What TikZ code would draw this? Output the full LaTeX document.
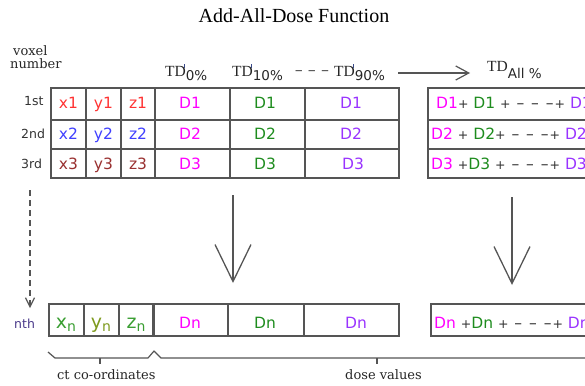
\documentclass[tikz,border=0pt]{standalone}
\usepackage{fontspec}
\setmainfont{Liberation Serif}
\newfontfamily\cellfont{DejaVu Sans}
\newfontfamily\labelfont{DejaVu Serif}
\usetikzlibrary{arrows.meta}
\definecolor{gridgray}{HTML}{555555}
\definecolor{ptred}{HTML}{FF3333}
\definecolor{ptblue}{HTML}{4040FF}
\definecolor{ptbrown}{HTML}{993030}
\definecolor{ptgreen}{HTML}{3A9E32}
\definecolor{ptolive}{HTML}{7E9A1E}
\definecolor{dmag}{HTML}{FF00FF}
\definecolor{dgreen}{HTML}{1E8C1E}
\definecolor{dpurple}{HTML}{9933FF}
\definecolor{plusgray}{HTML}{333333}
\definecolor{primeblue}{HTML}{3A4A8A}
\definecolor{nthcol}{HTML}{4A3A8A}

% TD with a prime and a percentage subscript
\newcommand{\tdprime}[1]{{\fontsize{15.5}{15.5}\selectfont TD}\makebox[0pt][l]{\hspace{-1.5pt}\raisebox{9pt}{\color{primeblue}\rule{1pt}{3.5pt}}}\raisebox{-4pt}{\cellfont\fontsize{13.5}{13.5}\selectfont #1\%}}
% coordinate letter with subscript n
\newcommand{\subn}[1]{{\fontsize{19}{19}\selectfont #1}\raisebox{-3pt}{\fontsize{14}{14}\selectfont n}}
% plus sign and dashes of the summed rows
\newcommand{\pl}{{\fontsize{12.5}{12.5}\selectfont +}}
\newcommand{\dsh}{\kern1pt–\kern1pt}

\begin{document}
\begin{tikzpicture}[x=1pt,y=-1pt,
  grid/.style={draw=gridgray,line width=1.3pt},
  cell/.style={font=\cellfont\fontsize{15.5}{15.5}\selectfont,inner sep=0pt,anchor=base},
  sumrow/.style={font=\cellfont\fontsize{15.5}{15.5}\selectfont,inner sep=0pt,anchor=base west,text=plusgray},
  rowlabel/.style={font=\cellfont\fontsize{12.5}{12.5}\selectfont,inner sep=0pt,anchor=base west,text=plusgray},
  head/.style={inner sep=0pt,anchor=base west,text=black!85},
  serifnote/.style={font=\labelfont\fontsize{13}{13}\selectfont,inner sep=0pt,anchor=base west,text=black!85},
  bigarrow/.style={draw=gridgray,line width=1.3pt,-{Straight Barb[length=37pt,width=36pt,line width=1.3pt]}},
]
\useasboundingbox (0,0) rectangle (585,385);
\clip (0,0) rectangle (585,385);

% title
\node[inner sep=0pt,anchor=base,font=\fontsize{20}{20}\selectfont] (title) at (294,23) {Add-All-Dose Function};

% voxel number caption and row labels
\node[serifnote] (voxel) at (13,56) {voxel};
\node[serifnote] (number) at (10,69) {number};
\node[rowlabel] (r1) at (24,106) {1st};
\node[rowlabel] (r2) at (21,138) {2nd};
\node[rowlabel] (r3) at (21,168) {3rd};
\node[rowlabel,text=nthcol] (rn) at (14,328) {nth};

% column headings
\node[head] (h0) at (165,77) {\tdprime{0}};
\node[head] (h10) at (232,77) {\tdprime{10}};
\node[head,font=\cellfont\fontsize{16}{16}\selectfont,anchor=center,text=gridgray] (hdots) at (312,73) {– – –};
\node[head] (h90) at (334,77) {\tdprime{90}};
\node[head] (hall) at (487,72) {{\fontsize{15.5}{15.5}\selectfont TD}\raisebox{-6pt}{\cellfont\fontsize{13.5}{13.5}\selectfont All \%}};
\coordinate (ha) at (398,73);
\coordinate (hb) at (470,73);
\draw[draw=gridgray,line width=1.2pt,-{Straight Barb[length=13pt,width=14pt,line width=1.2pt]}] (ha) -- (hb);

% main table: rows 1st to 3rd
\draw[grid] (51,88) rectangle (399,178);
\draw[grid] (51,120) -- (399,120) (51,149) -- (399,149);
\foreach \x in {86,121,155,230,305} \draw[grid] (\x,88) -- (\x,178);

\node[cell,text=ptred] (x1) at (68.5,108.5) {x1};
\node[cell,text=ptred] (y1) at (103.5,108.5) {y1};
\node[cell,text=ptred] (z1) at (138,108.5) {z1};
\node[cell,text=ptblue] (x2) at (68.5,139.5) {x2};
\node[cell,text=ptblue] (y2) at (103.5,139.5) {y2};
\node[cell,text=ptblue] (z2) at (138,139.5) {z2};
\node[cell,text=ptbrown] (x3) at (68.5,169) {x3};
\node[cell,text=ptbrown] (y3) at (103.5,169) {y3};
\node[cell,text=ptbrown] (z3) at (138,169) {z3};

\node[cell,text=dmag] (a1) at (190,108.5) {D1};
\node[cell,text=dmag] (a2) at (190,139.5) {D2};
\node[cell,text=dmag] (a3) at (190,169) {D3};
\node[cell,text=dgreen] (b1) at (265,108.5) {D1};
\node[cell,text=dgreen] (b2) at (265,139.5) {D2};
\node[cell,text=dgreen] (b3) at (265,169) {D3};
\node[cell,text=dpurple] (c1) at (351,108.5) {D1};
\node[cell,text=dpurple] (c2) at (351,139.5) {D2};
\node[cell,text=dpurple] (c3) at (353,169) {D3};

% summed table
\draw[grid] (428,88) rectangle (600,178);
\draw[grid] (428,120) -- (600,120) (428,149) -- (600,149);
\node[sumrow] (s1) at (436,108.5) {\textcolor{dmag}{D1}\pl\ \textcolor{dgreen}{D1} \pl\ \dsh\ \dsh\ \dsh\pl\ \textcolor{dpurple}{D1}};
\node[sumrow] (s2) at (431,139.5) {\textcolor{dmag}{D2} \pl\ \textcolor{dgreen}{D2}\pl\ \dsh\ \dsh\ \dsh\pl\ \textcolor{dpurple}{D2}};
\node[sumrow] (s3) at (431,169) {\textcolor{dmag}{D3} \pl\textcolor{dgreen}{D3} \pl\ \dsh\ \dsh\ \dsh\pl\ \textcolor{dpurple}{D3}};

% nth row
\draw[grid] (49,304) rectangle (153,336);
\draw[grid] (84,304) -- (84,336) (119,304) -- (119,336);
\draw[grid] (154.8,304) rectangle (399,336);
\draw[grid] (228,304) -- (228,336) (304,304) -- (304,336);
\node[cell,text=ptgreen] (xn) at (66,328) {\subn{x}};
\node[cell,text=ptolive] (yn) at (101,328) {\subn{y}};
\node[cell,text=ptgreen] (zn) at (136,328) {\subn{z}};
\node[cell,text=dmag] (an) at (190,328) {Dn};
\node[cell,text=dgreen] (bn) at (265,328) {Dn};
\node[cell,text=dpurple] (cn) at (356,328) {Dn};

\draw[grid] (431,304) rectangle (600,336);
\node[sumrow] (sn) at (434,328) {\textcolor{dmag}{Dn} \pl\textcolor{dgreen}{Dn} \pl\ \dsh\ \dsh\ \dsh\pl\ \textcolor{dpurple}{Dn}};

% arrows down to the nth row
\coordinate (d0) at (30,190);
\coordinate (d1) at (30,308);
\draw[draw=gridgray,line width=1.2pt,dash pattern=on 6pt off 4pt,-{Straight Barb[length=9pt,width=9pt,line width=1.2pt]}] (d0) -- (d1);
\coordinate (m0) at (233,195);
\coordinate (m1) at (233,283);
\draw[bigarrow] (m0) -- (m1);
\coordinate (t0) at (512,197);
\coordinate (t1) at (512,285);
\draw[bigarrow] (t0) -- (t1);

% braces under the rows
\draw[draw=gridgray,line width=1.2pt,line join=round] (48,352) -- (55,358) -- (148,358) -- (154,351) -- (161,358) -- (600,358);
\draw[draw=gridgray,line width=1.2pt] (100,358) -- (100,364) (377,358) -- (377,364);
\node[serifnote] (ct) at (57,379) {ct co-ordinates};
\node[serifnote] (dv) at (345,379) {dose values};
\end{tikzpicture}
\end{document}
